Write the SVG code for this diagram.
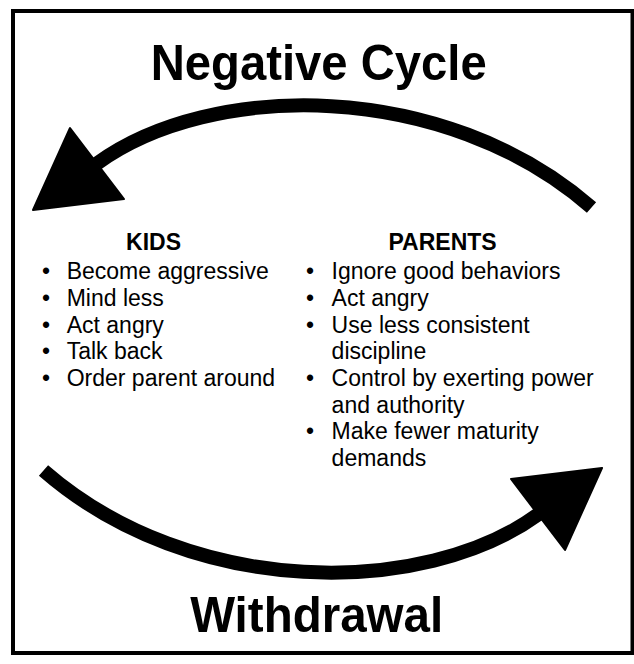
<svg xmlns="http://www.w3.org/2000/svg" width="634" height="664" viewBox="0 0 634 664">
<style>
  text { font-family: "Liberation Sans", Arial, Helvetica, sans-serif; fill: #000; }
  .title { font-size: 50px; font-weight: bold; text-anchor: middle; }
  .head { font-size: 23px; font-weight: bold; text-anchor: middle; }
  .item { font-size: 23px; }
  .shaft { fill: none; stroke: #000; stroke-width: 14; stroke-linecap: butt; }
  .tip { fill: #000; stroke: #000; stroke-width: 2; stroke-linejoin: round; }
</style>
<defs>
  <g id="arrow">
    <path class="shaft" d="M591.5,207.5 C443.5,78.5 210.4,80.9 97,163.5 L90,168.6"/>
    <polygon class="tip" points="70,128 33,210 124,199"/>
  </g>
</defs>
<rect x="13" y="11" width="619.5" height="642" fill="#fff" stroke="#000" stroke-width="4"/>
<g id="title">
  <text class="title" x="318.7" y="80" textLength="336" lengthAdjust="spacingAndGlyphs">Negative Cycle</text>
</g>
<g id="connectors">
  <use href="#arrow"/>
  <use href="#arrow" transform="rotate(180 317.5 339)"/>
</g>
<g id="kids">
  <text class="head" x="153.5" y="249.5">KIDS</text>
  <text class="item" x="42" y="279.3">•</text><text class="item" x="66.7" y="279.3">Become aggressive</text>
  <text class="item" x="42" y="306">•</text><text class="item" x="66.7" y="306">Mind less</text>
  <text class="item" x="42" y="332.7">•</text><text class="item" x="66.7" y="332.7">Act angry</text>
  <text class="item" x="42" y="359.3">•</text><text class="item" x="66.7" y="359.3">Talk back</text>
  <text class="item" x="42" y="386">•</text><text class="item" x="66.7" y="386">Order parent around</text>
</g>
<g id="parents">
  <text class="head" x="442.6" y="249.5">PARENTS</text>
  <text class="item" x="306" y="279.3">•</text><text class="item" x="331.6" y="279.3">Ignore good behaviors</text>
  <text class="item" x="306" y="306">•</text><text class="item" x="331.6" y="306">Act angry</text>
  <text class="item" x="306" y="332.7">•</text><text class="item" x="331.6" y="332.7">Use less consistent</text>
  <text class="item" x="331.6" y="359.3">discipline</text>
  <text class="item" x="306" y="386">•</text><text class="item" x="331.6" y="386">Control by exerting power</text>
  <text class="item" x="331.6" y="412.7">and authority</text>
  <text class="item" x="306" y="439.3">•</text><text class="item" x="331.6" y="439.3">Make fewer maturity</text>
  <text class="item" x="331.6" y="466">demands</text>
</g>
<g id="withdrawal">
  <text class="title" x="316.7" y="632" textLength="253" lengthAdjust="spacingAndGlyphs">Withdrawal</text>
</g>
</svg>
